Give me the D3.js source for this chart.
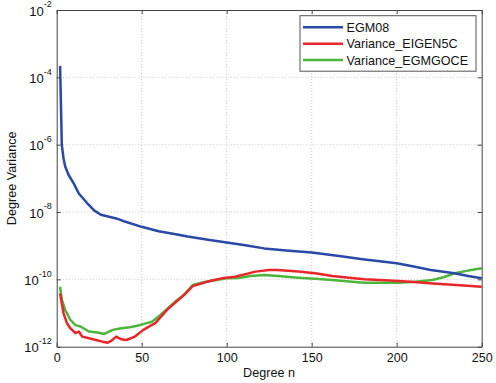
<!DOCTYPE html>
<html>
<head>
<meta charset="utf-8">
<script src="https://cdn.jsdelivr.net/npm/d3@7"></script>
<style>
body { margin: 0; background: #fff; }
text { font-family: "Liberation Sans", Arial, sans-serif; fill: #111; }
</style>
</head>
<body>
<div id="chart"></div>
<script>
// degree n and log10 of the degree variance
var egm08N = [2, 3, 4, 5, 7, 10, 13, 18, 22, 26, 35, 40, 50, 60, 70, 77, 90, 101, 110, 122, 135, 150, 165, 180, 190, 200, 210, 220, 234, 242, 250];
var egm08V = [-3.66, -6.0, -6.4, -6.65, -6.9, -7.15, -7.45, -7.74, -7.95, -8.08, -8.19, -8.28, -8.44, -8.57, -8.66, -8.73, -8.83, -8.91, -8.98, -9.08, -9.14, -9.2, -9.3, -9.4, -9.46, -9.52, -9.62, -9.72, -9.82, -9.9, -9.97];

var eigenN = [2, 4, 6, 8, 11, 13, 15, 19, 23, 27, 30, 32, 35, 38, 41, 46, 51, 55, 58, 65, 75, 80, 90, 97, 105, 117, 125, 130, 142, 152, 162, 172, 181, 190, 201, 210, 221, 235, 250];
var eigenV = [-10.42, -11.0, -11.3, -11.45, -11.6, -11.55, -11.7, -11.75, -11.8, -11.85, -11.88, -11.83, -11.7, -11.78, -11.8, -11.7, -11.5, -11.38, -11.3, -10.9, -10.46, -10.2, -10.05, -9.97, -9.92, -9.77, -9.72, -9.72, -9.77, -9.82, -9.9, -9.95, -10.0, -10.02, -10.05, -10.08, -10.12, -10.17, -10.22];

var goceN = [2, 3, 5, 8, 11, 14, 19, 24, 28, 33, 38, 43, 48, 53, 56, 60, 65, 70, 75, 80, 87, 94, 100, 107, 114, 122, 132, 142, 152, 162, 172, 181, 191, 201, 211, 221, 228, 234, 242, 250];
var goceV = [-10.22, -10.6, -10.91, -11.2, -11.36, -11.4, -11.55, -11.58, -11.62, -11.5, -11.45, -11.42, -11.37, -11.3, -11.26, -11.1, -10.88, -10.65, -10.45, -10.17, -10.08, -10.02, -9.97, -9.96, -9.9, -9.87, -9.91, -9.95, -9.98, -10.02, -10.06, -10.1, -10.1, -10.1, -10.07, -10.02, -9.93, -9.82, -9.74, -9.67];

var xTicks = [0, 50, 100, 150, 200, 250];
var yTickExp = [-2, -4, -6, -8, -10, -12];
var seriesNames = ["EGM08", "Variance_EIGEN5C", "Variance_EGMGOCE"];
var seriesColors = ["#2a48a6", "#e8262b", "#4db53c"];

var margin = {top: 10, right: 14.3, bottom: 36.3, left: 56.7},
    width = 496 - margin.left - margin.right,
    height = 383 - margin.top - margin.bottom;

var svg = d3.select("#chart")
  .append("svg")
    .attr("width", 496)
    .attr("height", 383)
  .append("g")
    .attr("transform", "translate(" + margin.left + "," + margin.top + ")");

var x = d3.scaleLinear().domain([0, 250]).range([0, width]);
var y = d3.scaleLog().domain([1e-12, 1e-2]).range([height, 0]);

// grid
svg.selectAll(".gx")
  .data(xTicks.slice(1, -1))
  .enter().append("line")
    .attr("x1", function(d) { return x(d); })
    .attr("x2", function(d) { return x(d); })
    .attr("y1", 0).attr("y2", height)
    .attr("stroke", "#c8c8c8").attr("stroke-dasharray", "1,2");
svg.selectAll(".gy")
  .data(yTickExp.slice(1, -1))
  .enter().append("line")
    .attr("x1", 0).attr("x2", width)
    .attr("y1", function(d) { return y(Math.pow(10, d)); })
    .attr("y2", function(d) { return y(Math.pow(10, d)); })
    .attr("stroke", "#c8c8c8").attr("stroke-dasharray", "1,2");

// series
var series = [
  {n: egm08N, v: egm08V},
  {n: eigenN, v: eigenV},
  {n: goceN, v: goceV}
];
var line = d3.line()
  .x(function(d) { return x(d[0]); })
  .y(function(d) { return y(Math.pow(10, d[1])); });

// draw green then red then blue, like the picture
[2, 1, 0].forEach(function(i) {
  var pts = series[i].n.map(function(n, j) { return [n, series[i].v[j]]; });
  svg.append("path")
    .attr("d", line(pts))
    .attr("fill", "none")
    .attr("stroke", seriesColors[i])
    .attr("stroke-width", 2.5)
    .attr("stroke-linejoin", "round");
});

// axes with inward ticks
var xAxis = svg.append("g")
  .attr("transform", "translate(0," + height + ")")
  .call(d3.axisBottom(x).tickValues(xTicks).tickSizeInner(-4).tickSizeOuter(0).tickPadding(6.4));
svg.append("g")
  .call(d3.axisTop(x).tickValues(xTicks).tickSizeInner(-4).tickSizeOuter(0).tickFormat(""));
svg.append("g")
  .call(d3.axisLeft(y).tickValues(yTickExp.map(function(e) { return Math.pow(10, e); }))
    .tickSizeInner(-4).tickSizeOuter(0).tickFormat(""));
svg.append("g")
  .attr("transform", "translate(" + width + ",0)")
  .call(d3.axisRight(y).tickValues(yTickExp.map(function(e) { return Math.pow(10, e); }))
    .tickSizeInner(-4).tickSizeOuter(0).tickFormat(""));

svg.selectAll(".domain").attr("stroke", "#444");
svg.selectAll(".tick line").attr("stroke", "#444");
xAxis.selectAll("text")
  .style("font-family", "Liberation Sans, Arial, sans-serif")
  .style("font-size", "12.5px").attr("fill", "#111");

// y tick labels 10^e
yTickExp.forEach(function(e) {
  var t = svg.append("text")
    .attr("x", -5)
    .attr("y", y(Math.pow(10, e)) + 5.7)
    .attr("text-anchor", "end")
    .style("font-size", "13px");
  t.append("tspan").text("10");
  t.append("tspan").attr("dy", -8.5).style("font-size", "9px").text(String(e));
});

// axis titles
svg.append("text")
  .attr("x", 269 - margin.left)
  .attr("y", height + 30)
  .attr("text-anchor", "middle")
  .style("font-size", "12.6px")
  .text("Degree n");
svg.append("text")
  .attr("transform", "translate(" + (-41) + "," + (height / 2) + ")rotate(-90)")
  .attr("text-anchor", "middle")
  .style("font-size", "12.6px")
  .text("Degree Variance");

// legend
var lg = svg.append("g").attr("transform", "translate(" + (300 - margin.left) + "," + (15.7 - margin.top) + ")");
lg.append("rect")
  .attr("width", 176).attr("height", 55.5)
  .attr("fill", "#fff").attr("stroke", "#555").attr("stroke-width", 1);
seriesNames.forEach(function(name, i) {
  var cy = 11.6 + i * 16.4;
  lg.append("line")
    .attr("x1", 3).attr("x2", 43)
    .attr("y1", cy).attr("y2", cy)
    .attr("stroke", seriesColors[i]).attr("stroke-width", 2.5);
  lg.append("text")
    .attr("x", 46.5).attr("y", cy + 4.5)
    .style("font-size", "12.6px")
    .text(name);
});
</script>
</body>
</html>
